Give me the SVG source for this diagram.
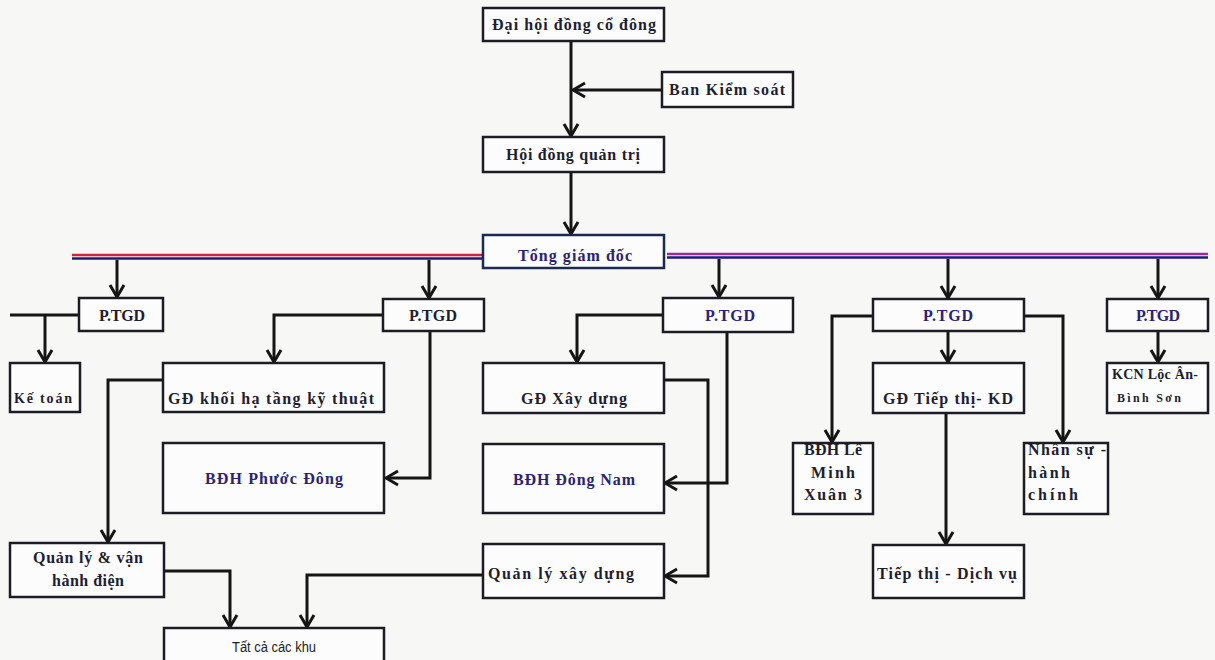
<svg xmlns="http://www.w3.org/2000/svg" width="1215" height="660" viewBox="0 0 1215 660">
<defs>
<marker id="arr" viewBox="-14 -9 16 18" refX="0" refY="0" markerWidth="16" markerHeight="18" markerUnits="userSpaceOnUse" orient="auto">
<path d="M-12,-7 L0,0 L-12,7" fill="none" stroke="#151515" stroke-width="3"/>
</marker>
</defs>
<style>
.bx{fill:#fcfcfc;stroke:#1c1c24;stroke-width:2.5}
.t{font-family:"Liberation Serif",serif;font-weight:bold;font-size:16px;fill:#1e1e30;text-anchor:middle}
.tl{text-anchor:start}
.tn{font-family:"Liberation Sans",sans-serif;font-size:14px;fill:#222;text-anchor:middle}
.ln{fill:none;stroke:#151515;stroke-width:3}
.a{marker-end:url(#arr)}
</style>
<rect width="1215" height="660" fill="#f7f7f5"/>

<g id="connectors">
<path class="ln a" d="M571,41 V136"/>
<path class="ln a" d="M662,90 H573"/>
<path class="ln a" d="M571,172 V234"/>
<line x1="72" y1="255" x2="483" y2="255" stroke="#d22040" stroke-width="2.5"/>
<line x1="72" y1="258.5" x2="483" y2="258.5" stroke="#1d1d78" stroke-width="2.5"/>
<line x1="667" y1="254" x2="1208" y2="254" stroke="#9a2a9a" stroke-width="2.5"/>
<line x1="667" y1="257.5" x2="1208" y2="257.5" stroke="#1a1a80" stroke-width="2.5"/>
<path class="ln a" d="M117,260 V297"/>
<path class="ln a" d="M429,260 V298"/>
<path class="ln a" d="M719,259 V297"/>
<path class="ln a" d="M948,259 V298"/>
<path class="ln a" d="M1158,259 V298"/>
<path class="ln" d="M79,315 H10"/>
<path class="ln a" d="M45,315 V362"/>
<path class="ln a" d="M383,315 H274 V362"/>
<path class="ln a" d="M430,331 V478 H386"/>
<path class="ln a" d="M163,380 H108 V542"/>
<path class="ln a" d="M663,315 H577 V362"/>
<path class="ln a" d="M727,332 V483 H665"/>
<path class="ln a" d="M664,380 H708 V576 H665"/>
<path class="ln a" d="M948,331 V362"/>
<path class="ln a" d="M873,316 H832 V442"/>
<path class="ln a" d="M1024,316 H1063 V442"/>
<path class="ln a" d="M946,413 V544"/>
<path class="ln a" d="M1158,331 V362"/>
<path class="ln a" d="M164,571 H230 V627"/>
<path class="ln a" d="M483,575 H307 V627"/>
</g>

<g id="dai-hoi"><rect class="bx" x="483" y="8" width="181" height="33"/><text class="t" x="574" y="30" textLength="164">Đại hội đồng cổ đông</text></g>
<g id="ban-kiem-soat"><rect class="bx" x="662" y="72" width="131" height="35"/><text class="t" x="727" y="95" textLength="116">Ban Kiểm soát</text></g>
<g id="hdqt"><rect class="bx" x="483" y="137" width="181" height="35"/><text class="t" x="573" y="160" textLength="134">Hội đồng quản trị</text></g>
<g id="tgd"><rect class="bx" x="483" y="235" width="181" height="33" style="stroke:#1a2a50"/><text class="t" x="575" y="261" textLength="114" style="fill:#2a2470">Tổng giám đốc</text></g>

<g id="ptgd1"><rect class="bx" x="79" y="298" width="84" height="33"/><text class="t" x="122" y="321" textLength="46">P.TGD</text></g>
<g id="ptgd2"><rect class="bx" x="383" y="299" width="101" height="32"/><text class="t" x="433" y="321" textLength="48">P.TGD</text></g>
<g id="ptgd3"><rect class="bx" x="663" y="298" width="130" height="34"/><text class="t" x="730" y="321" textLength="50" style="fill:#2a2470">P.TGD</text></g>
<g id="ptgd4"><rect class="bx" x="873" y="299" width="151" height="32"/><text class="t" x="948" y="321" textLength="50" style="fill:#2a2470">P.TGD</text></g>
<g id="ptgd5"><rect class="bx" x="1107" y="299" width="101" height="32"/><text class="t" x="1158" y="321" textLength="44" style="fill:#2a2470">P.TGD</text></g>

<g id="ke-toan"><rect class="bx" x="10" y="363" width="70" height="49"/><text class="t tl" x="14" y="403" textLength="58" style="font-size:14px">Kế toán</text></g>
<g id="gd-ha-tang"><rect class="bx" x="163" y="363" width="221" height="49"/><text class="t" x="271" y="404" textLength="206">GĐ khối hạ tầng kỹ thuật</text></g>
<g id="bdh-phuoc-dong"><rect class="bx" x="163" y="443" width="221" height="70"/><text class="t" x="274" y="484" textLength="138" style="fill:#2a2470">BĐH Phước Đông</text></g>
<g id="gd-xay-dung"><rect class="bx" x="483" y="363" width="181" height="50"/><text class="t" x="574" y="404" textLength="106">GĐ Xây dựng</text></g>
<g id="bdh-dong-nam"><rect class="bx" x="483" y="444" width="181" height="69"/><text class="t" x="574" y="485" textLength="122" style="fill:#2a2470">BĐH Đông Nam</text></g>
<g id="gd-tiep-thi"><rect class="bx" x="873" y="363" width="151" height="50"/><text class="t" x="948" y="404" textLength="130">GĐ Tiếp thị- KD</text></g>
<g id="bdh-le"><rect class="bx" x="793" y="443" width="80" height="71"/><text class="t" x="833" y="455" textLength="58">BĐH Lê</text><text class="t" x="833" y="478" textLength="44">Minh</text><text class="t" x="833" y="500" textLength="58">Xuân 3</text></g>
<g id="nhan-su"><rect class="bx" x="1024" y="443" width="84" height="71"/><text class="t tl" x="1028" y="455" textLength="78">Nhân sự -</text><text class="t tl" x="1028" y="478" textLength="42">hành</text><text class="t tl" x="1028" y="500" textLength="50">chính</text></g>
<g id="kcn"><rect class="bx" x="1107" y="363" width="101" height="50"/><text class="t tl" x="1112" y="379" textLength="86" style="font-size:14px">KCN Lộc Ân-</text><text class="t tl" x="1117" y="402" textLength="64" style="font-size:12px">Bình Sơn</text></g>
<g id="tiep-thi-dv"><rect class="bx" x="873" y="545" width="151" height="53"/><text class="t" x="947" y="579" textLength="140">Tiếp thị - Dịch vụ</text></g>
<g id="ql-van-hanh"><rect class="bx" x="10" y="543" width="154" height="54"/><text class="t" x="88" y="563" textLength="110">Quản lý &amp; vận</text><text class="t" x="88" y="586" textLength="72">hành điện</text></g>
<g id="ql-xay-dung"><rect class="bx" x="483" y="544" width="181" height="54"/><text class="t tl" x="488" y="579" textLength="146">Quản lý xây dựng</text></g>
<g id="tat-ca"><rect class="bx" x="164" y="628" width="220" height="40"/><text class="tn" x="274" y="652" textLength="84" lengthAdjust="spacingAndGlyphs">Tất cả các khu</text></g>
</svg>
